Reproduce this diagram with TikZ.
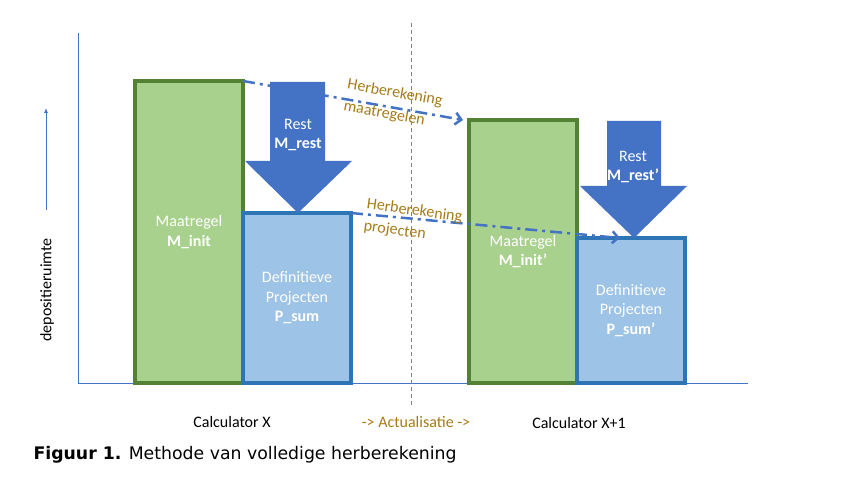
\documentclass[tikz,border=0pt]{standalone}
\usepackage{fontspec}
\setmainfont{Carlito}
\newfontfamily\capfont{DejaVu Sans}
\usetikzlibrary{arrows.meta}
\definecolor{lichtgroen}{RGB}{169,209,142}
\definecolor{donkergroen}{RGB}{84,130,53}
\definecolor{lichtblauw}{RGB}{157,195,230}
\definecolor{randblauw}{RGB}{46,117,182}
\definecolor{pijlblauw}{RGB}{68,114,196}
\definecolor{goud}{RGB}{166,124,24}

\begin{document}
\begin{tikzpicture}[>=latex, x=1pt, y=-1pt, %y 向下, 与像素坐标一致
    maatbox/.style={draw=donkergroen, fill=lichtgroen, line width=4pt, minimum width=108pt,
        outer sep=0pt, inner sep=0pt, anchor=north west, text=white, align=center,
        font=\fontsize{16}{19.5}\selectfont},
    projbox/.style={maatbox, draw=randblauw, fill=lichtblauw},
    resttekst/.style={text=white, align=center, font=\fontsize{16}{19.5}\selectfont},
    herber/.style={draw=pijlblauw, line width=2.5pt, dash pattern=on 12pt off 5pt on 3pt off 5pt,
        -{Straight Barb[length=6pt, width=12pt]}},
    goudtekst/.style={text=goud, align=left, inner sep=0pt, font=\fontsize{16}{22}\selectfont},
    ondertekst/.style={font=\fontsize{16}{19.5}\selectfont}]
    \useasboundingbox[fill=white] (0,0) rectangle (858,502);
    % assen
    \draw[pijlblauw, line width=0.8pt] (78,33) -- (78,383) -- (748,383);
    \draw[pijlblauw, line width=0.8pt, -{Latex[length=5pt, width=4pt]}] (46,210) -- (46,108);
    \node[rotate=90, ondertekst] (as) at (47,290) {depositieruimte};
    \draw[gray, line width=0.8pt, dash pattern=on 4pt off 3pt] (411,23) -- (411,408);
    % staven
    \node[maatbox, minimum height=302pt] (mi1) at (135,81) {Maatregel\\\textbf{M\_init}};
    \node[projbox, minimum height=170pt] (ps1) at (243,213) {Definitieve\\Projecten\\\textbf{P\_sum}};
    \node[maatbox, minimum height=263pt] (mi2) at (469,120) {Maatregel\\\textbf{M\_init’}};
    \node[projbox, minimum height=145pt] (ps2) at (577,238) {Definitieve\\Projecten\\\textbf{P\_sum’}};
    % herberekening, 先画虚线再画箭头盖住
    \draw[herber] (mi1.north east) -- ([xshift=-6pt]mi2.north west);
    \draw[herber] (ps1.north east) -- ([xshift=43pt]ps2.north west);
    \fill[pijlblauw] (270,82) -- (325,82) -- (325,161) -- (352,161) -- (298,213) -- (245,161) -- (270,161) -- cycle;
    \fill[pijlblauw] (607,121) -- (661,121) -- (661,186) -- (687,186) -- (634,238) -- (580,186) -- (607,186) -- cycle;
    \node[resttekst] (mr1) at (298,135) {Rest\\\textbf{M\_rest}};
    \node[resttekst] (mr2) at (633,167) {Rest\\\textbf{M\_rest’}};
    \node[goudtekst, rotate=-10] (hm) at (393,104) {Herberekening\\maatregelen};
    \node[goudtekst, rotate=-8] (hp) at (413,222) {Herberekening\\projecten};
    % onderschriften
    \node[ondertekst] (cx) at (232,422) {Calculator X};
    \node[ondertekst, text=goud] (ac) at (416,422) {-> Actualisatie ->};
    \node[ondertekst] (cx1) at (579,423) {Calculator X+1};
    \node[anchor=west, font=\capfont\fontsize{17.3}{20}\selectfont] (fig) at (30,455) {\textbf{Figuur 1.} Methode van volledige herberekening};
\end{tikzpicture}
\end{document}
